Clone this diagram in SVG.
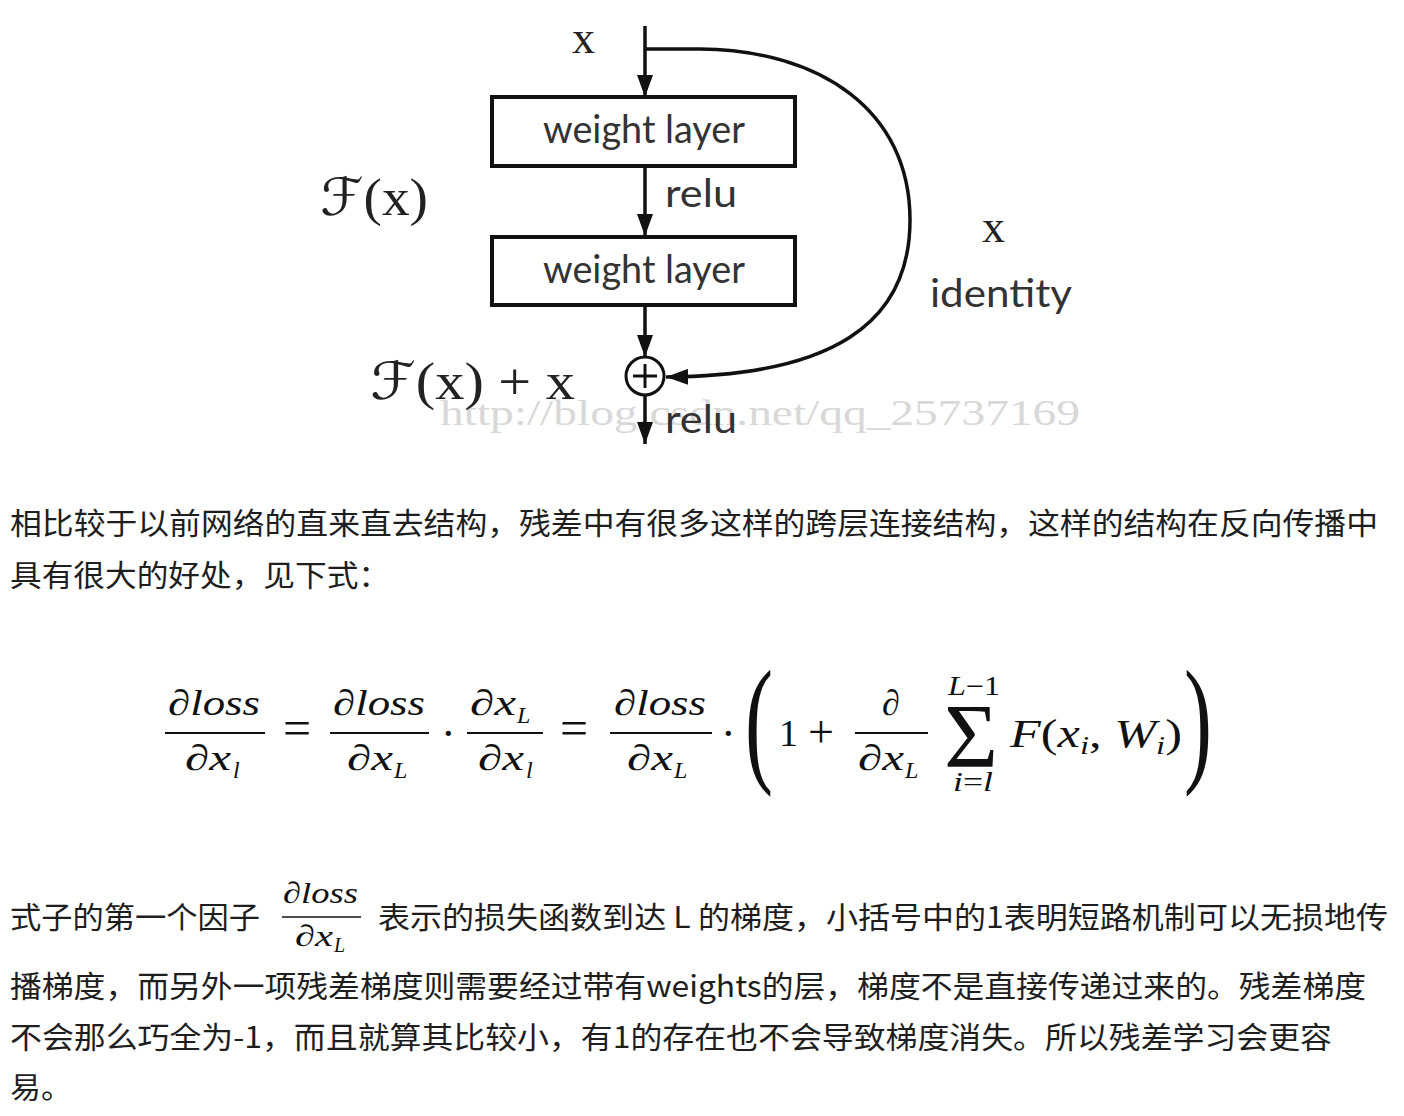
<svg xmlns="http://www.w3.org/2000/svg" width="1404" height="1116" viewBox="0 0 1404 1116">
<defs>
<style>
.cn{font-family:"Noto Sans CJK SC","Noto Sans",sans-serif;font-size:30px;fill:#1e1e1e}
.m{font-family:"Liberation Serif","DejaVu Serif",serif;font-style:italic;font-size:36px;fill:#111}
.mr{font-family:"Liberation Serif","DejaVu Serif",serif;font-size:36px;fill:#111}
.sub{font-family:"Liberation Serif","DejaVu Serif",serif;font-style:italic;font-size:24px;fill:#111}
.lbl{font-family:Lato,"Liberation Sans",sans-serif;font-size:38px;fill:#333}
.ser{font-family:"Liberation Serif",serif;font-size:46px;fill:#222}
.scr{font-family:"DejaVu Serif","DejaVu Sans",serif;font-style:italic}
.wm{font-family:"Liberation Serif",serif;font-size:36px;fill:#d8d8d8}
.box{fill:#fff;stroke:#111;stroke-width:4}
.con{fill:none;stroke:#111;stroke-width:3.5}
.bar{stroke:#111;stroke-width:2}
</style>
<marker id="ah" viewBox="0 0 22 16" refX="22" refY="8" markerWidth="22" markerHeight="16" markerUnits="userSpaceOnUse" orient="auto">
<path d="M0,0 L22,8 L0,16 z" fill="#111"/>
</marker>
</defs>
<rect width="1404" height="1116" fill="#fff"/>

<text class="wm" x="440" y="425" textLength="640" lengthAdjust="spacingAndGlyphs">http://blog.csdn.net/qq_25737169</text>

<g id="connectors">
<line class="con" x1="645" y1="26" x2="645" y2="97" marker-end="url(#ah)"/>
<line class="con" x1="645" y1="166" x2="645" y2="236" marker-end="url(#ah)"/>
<line class="con" x1="645" y1="305" x2="645" y2="357" marker-end="url(#ah)"/>
<line class="con" x1="645" y1="395" x2="645" y2="444" marker-end="url(#ah)"/>
<path class="con" d="M645,49 L700,49 C820,50 910,110 910,220 C910,325 830,376 666,377" marker-end="url(#ah)"/>
</g>

<g id="input-x"><text class="ser" x="572" y="53">x</text></g>
<g id="weight-layer-1">
<rect class="box" x="492" y="97" width="303" height="69"/>
<text class="lbl" x="543" y="143" textLength="202" lengthAdjust="spacingAndGlyphs">weight layer</text>
</g>
<g id="relu-1"><text class="lbl" x="665" y="207" textLength="72" lengthAdjust="spacingAndGlyphs">relu</text></g>
<g id="weight-layer-2">
<rect class="box" x="492" y="237" width="303" height="68"/>
<text class="lbl" x="543" y="283" textLength="202" lengthAdjust="spacingAndGlyphs">weight layer</text>
</g>
<g id="fx-label"><text class="ser" x="320" y="215" style="font-size:52px" textLength="108" lengthAdjust="spacingAndGlyphs"><tspan class="scr">ℱ</tspan>(x)</text></g>
<g id="identity-label">
<text class="ser" x="982" y="242">x</text>
<text class="lbl" x="930" y="307" textLength="142" lengthAdjust="spacingAndGlyphs">identity</text>
</g>
<g id="sum">
<circle cx="645" cy="376" r="19" fill="#fff" stroke="#111" stroke-width="3"/>
<line x1="633" y1="376" x2="657" y2="376" stroke="#111" stroke-width="3"/>
<line x1="645" y1="364" x2="645" y2="388" stroke="#111" stroke-width="3"/>
</g>
<g id="fx-plus-x"><text class="ser" x="370" y="399" style="font-size:52px" textLength="205" lengthAdjust="spacingAndGlyphs"><tspan class="scr">ℱ</tspan>(x) + x</text></g>
<g id="relu-2"><text class="lbl" x="665" y="433" textLength="72" lengthAdjust="spacingAndGlyphs">relu</text></g>

<g id="para1">
<text class="cn" x="10" y="534" textLength="1368" lengthAdjust="spacingAndGlyphs">相比较于以前网络的直来直去结构，残差中有很多这样的跨层连接结构，这样的结构在反向传播中</text>
<text class="cn" x="10" y="586" textLength="380" lengthAdjust="spacingAndGlyphs">具有很大的好处，见下式：</text>
</g>

<g id="formula">
<text class="m" x="168" y="715" textLength="92" lengthAdjust="spacingAndGlyphs">∂loss</text>
<line class="bar" x1="165" y1="733" x2="265" y2="733"/>
<text class="m" x="185" y="770" textLength="46" lengthAdjust="spacingAndGlyphs">∂x</text>
<text class="sub" x="233" y="778">l</text>

<text class="mr" x="283" y="745" style="font-size:50px">=</text>

<text class="m" x="333" y="715" textLength="92" lengthAdjust="spacingAndGlyphs">∂loss</text>
<line class="bar" x1="330" y1="733" x2="429" y2="733"/>
<text class="m" x="347" y="770" textLength="46" lengthAdjust="spacingAndGlyphs">∂x</text>
<text class="sub" x="394" y="778">L</text>

<text class="mr" x="441" y="748" style="font-size:44px">·</text>

<text class="m" x="470" y="715" textLength="46" lengthAdjust="spacingAndGlyphs">∂x</text>
<text class="sub" x="517" y="723">L</text>
<line class="bar" x1="467" y1="733" x2="543" y2="733"/>
<text class="m" x="478" y="770" textLength="46" lengthAdjust="spacingAndGlyphs">∂x</text>
<text class="sub" x="526" y="778">l</text>

<text class="mr" x="560" y="745" style="font-size:50px">=</text>

<text class="m" x="614" y="715" textLength="92" lengthAdjust="spacingAndGlyphs">∂loss</text>
<line class="bar" x1="610" y1="733" x2="712" y2="733"/>
<text class="m" x="627" y="770" textLength="46" lengthAdjust="spacingAndGlyphs">∂x</text>
<text class="sub" x="674" y="778">L</text>

<text class="mr" x="721" y="748" style="font-size:44px">·</text>

<text class="mr" style="font-size:140px" transform="translate(745,767) scale(0.6,1)" x="0" y="0">(</text>

<text class="mr" x="779" y="746" style="font-size:38px">1</text>
<text class="mr" x="808" y="747" style="font-size:46px">+</text>

<text class="m" x="882" y="715">∂</text>
<line class="bar" x1="855" y1="733" x2="928" y2="733"/>
<text class="m" x="858" y="770" textLength="46" lengthAdjust="spacingAndGlyphs">∂x</text>
<text class="sub" x="905" y="778">L</text>

<text class="sub" x="948" y="695" style="font-size:27px" textLength="52" lengthAdjust="spacingAndGlyphs">L<tspan style="font-style:normal">−1</tspan></text>
<text class="mr" x="944" y="767" style="font-size:92px" textLength="54" lengthAdjust="spacingAndGlyphs">Σ</text>
<text class="sub" x="953" y="791" style="font-size:27px" textLength="40" lengthAdjust="spacingAndGlyphs">i<tspan style="font-style:normal">=</tspan>l</text>

<text class="m" x="1010" y="747" style="font-size:40px" textLength="172" lengthAdjust="spacingAndGlyphs">F<tspan style="font-style:normal">(</tspan>x<tspan style="font-size:26px" dy="7">i</tspan><tspan style="font-style:normal" dy="-7">, </tspan>W<tspan style="font-size:26px" dy="7">i</tspan><tspan style="font-style:normal" dy="-7">)</tspan></text>

<text class="mr" style="font-size:140px" transform="translate(1184,767) scale(0.6,1)" x="0" y="0">)</text>
</g>

<g id="para2">
<text class="cn" x="10" y="928" textLength="250" lengthAdjust="spacingAndGlyphs">式子的第一个因子</text>
<text class="m" x="283" y="903" style="font-size:30px" textLength="75" lengthAdjust="spacingAndGlyphs">∂loss</text>
<line x1="282" y1="917" x2="361" y2="917" stroke="#111" stroke-width="1.6"/>
<text class="m" x="295" y="946" style="font-size:30px" textLength="38" lengthAdjust="spacingAndGlyphs">∂x</text>
<text class="sub" x="334" y="952" style="font-size:20px">L</text>
<text class="cn" x="378" y="928" textLength="1010" lengthAdjust="spacingAndGlyphs">表示的损失函数到达 L 的梯度，小括号中的1表明短路机制可以无损地传</text>
<text class="cn" x="10" y="997" textLength="1356" lengthAdjust="spacingAndGlyphs">播梯度，而另外一项残差梯度则需要经过带有weights的层，梯度不是直接传递过来的。残差梯度</text>
<text class="cn" x="10" y="1048" textLength="1322" lengthAdjust="spacingAndGlyphs">不会那么巧全为-1，而且就算其比较小，有1的存在也不会导致梯度消失。所以残差学习会更容</text>
<text class="cn" x="10" y="1098" textLength="62" lengthAdjust="spacingAndGlyphs">易。</text>
</g>
</svg>
